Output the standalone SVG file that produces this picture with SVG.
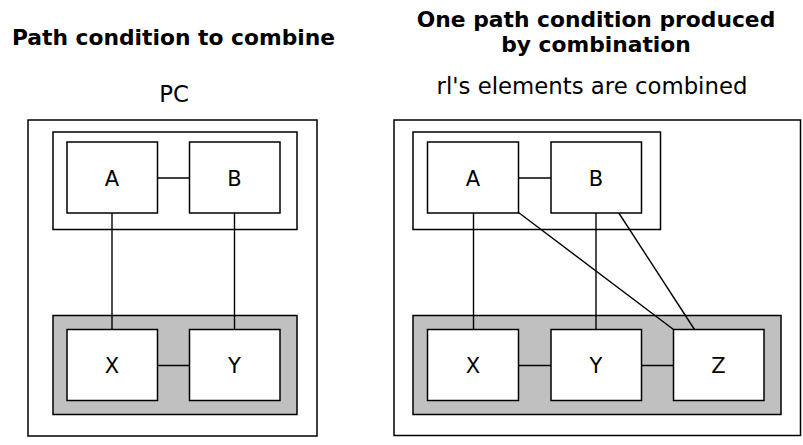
<svg xmlns="http://www.w3.org/2000/svg" width="803" height="445" viewBox="0 0 803 445">
<style>
text{font-family:"DejaVu Sans","Liberation Sans",sans-serif;fill:#000}
.title{font-weight:bold;font-size:21.8px;text-anchor:middle}
.sub{font-size:22.8px;text-anchor:middle}
.lbl{font-size:21px;text-anchor:middle}
.frame{fill:#fff;stroke:#000;stroke-width:1.5}
.grey{fill:#c0c0c0;stroke:#000;stroke-width:1.5}
.box{fill:#fff;stroke:#000;stroke-width:1.5}
.conn line{stroke:#000;stroke-width:1.4}
</style>
<rect width="803" height="445" fill="#fff"/>
<text class="title" x="173.5" y="44.5">Path condition to combine</text>
<text class="sub" x="174" y="102">PC</text>
<text class="title" x="596" y="26.5">One path condition produced</text>
<text class="title" x="596" y="51.5">by combination</text>
<text class="sub" x="592" y="94">rl's elements are combined</text>

<g id="left-panel">
<rect class="frame" x="28" y="120" width="289" height="316"/>
<rect class="frame" x="53" y="132" width="244" height="97.5"/>
<rect class="grey" x="53" y="315.5" width="244" height="99"/>
</g>
<g id="right-panel">
<rect class="frame" x="394" y="120" width="406.5" height="315.5"/>
<rect class="frame" x="413" y="132" width="247.5" height="97.5"/>
<rect class="grey" x="413" y="315.5" width="368" height="99"/>
</g>

<g class="conn" id="connectors">
<line x1="157.5" y1="178" x2="189.5" y2="178"/>
<line x1="157.5" y1="365.5" x2="189.5" y2="365.5"/>
<line x1="112" y1="213" x2="112" y2="329.5"/>
<line x1="234.5" y1="213" x2="234.5" y2="329.5"/>
<line x1="518.5" y1="178" x2="551" y2="178"/>
<line x1="518.5" y1="365.5" x2="551" y2="365.5"/>
<line x1="641.5" y1="365.5" x2="673.5" y2="365.5"/>
<line x1="473.5" y1="213" x2="473.5" y2="329.5"/>
<line x1="596" y1="213" x2="596" y2="329.5"/>
<line x1="518.5" y1="212.5" x2="673.5" y2="329.5"/>
<line x1="618.5" y1="212.5" x2="694.5" y2="329.5"/>
</g>

<g id="L-A"><rect class="box" x="67" y="142" width="90.5" height="71"/><text class="lbl" x="112" y="185.5">A</text></g>
<g id="L-B"><rect class="box" x="189.5" y="142" width="90.5" height="71"/><text class="lbl" x="234.5" y="185.5">B</text></g>
<g id="L-X"><rect class="box" x="67" y="329.5" width="90.5" height="71"/><text class="lbl" x="112" y="373">X</text></g>
<g id="L-Y"><rect class="box" x="189.5" y="329.5" width="90.5" height="71"/><text class="lbl" x="234.5" y="373">Y</text></g>

<g id="R-A"><rect class="box" x="427.5" y="142" width="91" height="71"/><text class="lbl" x="473" y="185.5">A</text></g>
<g id="R-B"><rect class="box" x="551" y="142" width="90.5" height="71"/><text class="lbl" x="596" y="185.5">B</text></g>
<g id="R-X"><rect class="box" x="427.5" y="329.5" width="91" height="71"/><text class="lbl" x="473" y="373">X</text></g>
<g id="R-Y"><rect class="box" x="551" y="329.5" width="90.5" height="71"/><text class="lbl" x="596" y="373">Y</text></g>
<g id="R-Z"><rect class="box" x="673.5" y="329.5" width="90.5" height="71"/><text class="lbl" x="718.5" y="373">Z</text></g>
</svg>
